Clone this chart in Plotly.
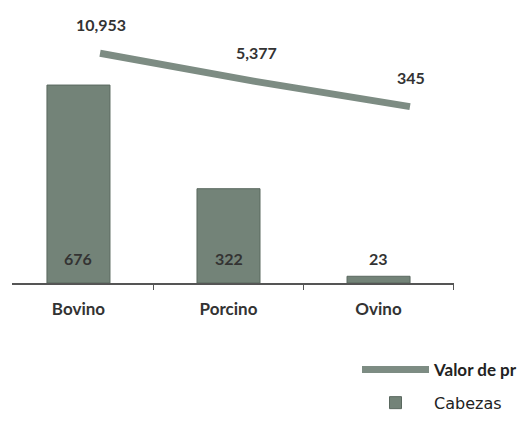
import plotly.graph_objects as go

categories = ["Bovino", "Porcino", "Ovino"]
cabezas = [676, 322, 23]
valor = [10953, 5377, 345]
cabezas_labels = ["676", "322", "23"]
valor_labels = ["10,953", "5,377", "345"]

bar_color = "#738378"
line_color = "#7d8c83"
text_color = "#333333"
font_family = "Lato, 'Open Sans', sans-serif"

fig = go.Figure()

fig.add_trace(go.Bar(
    x=categories, y=cabezas,
    name="<span style='font-family:DejaVu Sans;font-weight:normal;font-size:16px'>Cabezas</span>",
    marker=dict(color=bar_color, line=dict(color="#5a685f", width=1)),
    width=0.42, legendrank=2, legendgroup="b",
    xaxis="x", yaxis="y",
))

fig.add_trace(go.Scatter(
    x=categories, y=valor,
    name="<b>Valor de pr</b>",
    mode="lines",
    line=dict(color=line_color, width=7),
    legendrank=1, legendgroup="a",
    xaxis="x2", yaxis="y2",
))

annotations = []
for c, v, t in zip(categories, cabezas, cabezas_labels):
    annotations.append(dict(
        x=c, y=0, xref="x", yref="y", text="<b>" + t + "</b>",
        showarrow=False, yshift=25,
        font=dict(family=font_family, size=16, color=text_color),
    ))
for c, v, t in zip(categories, valor, valor_labels):
    annotations.append(dict(
        x=c, y=v, xref="x2", yref="y2", text="<b>" + t + "</b>",
        showarrow=False, yshift=29, xshift=1,
        font=dict(family=font_family, size=16, color=text_color),
    ))

# page renders with an 8px body offset; figure sized to fill the window
W, H = 521, 416
ml, mt = 4, 22
pw = 442
ph = 253
mr = W - ml - pw
mb = H - mt - ph

fig.update_layout(
    width=W, height=H,
    margin=dict(l=ml, r=mr, t=mt, b=mb, autoexpand=False),
    paper_bgcolor="white", plot_bgcolor="white",
    font=dict(family=font_family, color=text_color),
    bargap=0.58,
    showlegend=True,
    legend=dict(
        x=(349 - ml) / pw, y=(mt + ph - 344) / ph,
        xanchor="left", yanchor="top",
        itemwidth=67, tracegroupgap=8,
        font=dict(family=font_family, size=17, color="#222222"),
        bgcolor="rgba(0,0,0,0)",
    ),
    xaxis=dict(
        domain=[0, 1], range=[-0.443, 2.503],
        showline=True, linecolor="#555555", linewidth=1.5,
        ticks="outside", tickson="boundaries", ticklen=5, tickcolor="#555555",
        tickfont=dict(family=font_family, size=17, color=text_color),
        ticklabelstandoff=10,
        tickvals=categories, ticktext=["<b>" + c + "</b>" for c in categories],
        showgrid=False, zeroline=False,
    ),
    yaxis=dict(range=[0, 864], visible=False, showgrid=False),
    xaxis2=dict(
        overlaying="x", range=[-0.568, 2.284],
        visible=False, showgrid=False,
    ),
    yaxis2=dict(
        overlaying="y", range=[-34684, 15574],
        visible=False, showgrid=False,
    ),
    annotations=annotations,
)

fig.write_html("out.html")
